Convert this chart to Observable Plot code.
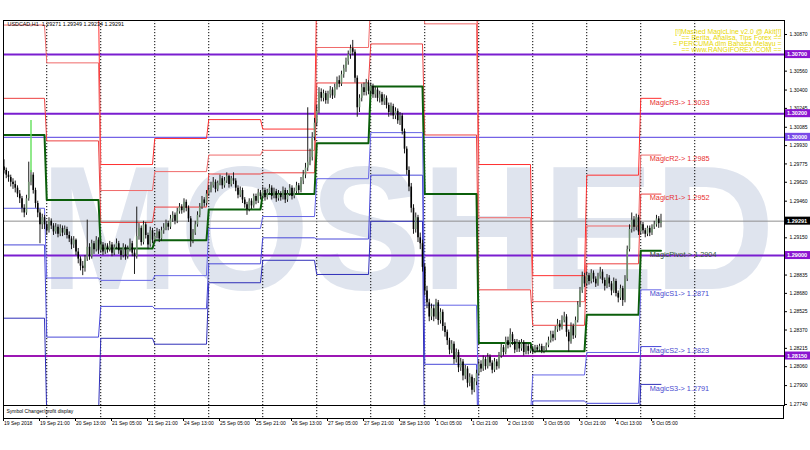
<!DOCTYPE html>
<html><head><meta charset="utf-8">
<script src="https://cdn.jsdelivr.net/npm/d3@7"></script>
<script src="https://cdn.jsdelivr.net/npm/@observablehq/plot@0.6"></script>
<style>body{margin:0;background:#fff}svg{display:block}</style>
</head><body><div id="chart"></div>
<script>
// ---- USDCAD H1 candles (bar index 0 = 19 Sep 05:00) ----
const open = [
1.2975,1.2972,1.2968,1.2966,1.2962,1.2960,1.2957,1.2952,1.2948,1.2940,
1.2936,1.2948,1.2962,1.2968,1.2955,1.2944,1.2936,1.2926,1.2932,1.2926,
1.2921,1.2929,1.2925,1.2920,1.2924,1.2918,1.2923,1.2919,1.2922,1.2917,
1.2914,1.2909,1.2913,1.2903,1.2897,1.2891,1.2889,1.2897,1.2907,1.2899,
1.2910,1.2905,1.2913,1.2904,1.2909,1.2903,1.2908,1.2905,1.2909,1.2902,
1.2907,1.2910,1.2904,1.2900,1.2907,1.2899,1.2905,1.2910,1.2902,1.2899,
1.2916,1.2923,1.2911,1.2926,1.2917,1.2909,1.2921,1.2913,1.2916,1.2920,
1.2914,1.2921,1.2923,1.2927,1.2924,1.2931,1.2934,1.2929,1.2937,1.2941,
1.2938,1.2945,1.2940,1.2931,1.2913,1.2919,1.2926,1.2934,1.2941,1.2947,
1.2944,1.2952,1.2955,1.2959,1.2962,1.2956,1.2961,1.2965,1.2959,1.2963,
1.2967,1.2960,1.2965,1.2963,1.2957,1.2951,1.2955,1.2947,1.2943,1.2939,
1.2946,1.2942,1.2950,1.2946,1.2953,1.2950,1.2955,1.2949,1.2953,1.2957,
1.2950,1.2954,1.2948,1.2952,1.2949,1.2955,1.2947,1.2952,1.2957,1.2950,
1.2954,1.2959,1.2955,1.2963,1.2968,1.2974,1.2979,1.2983,1.3000,1.3012,
1.3022,1.3038,1.3033,1.3037,1.3031,1.3036,1.3040,1.3035,1.3042,1.3048,
1.3045,1.3053,1.3058,1.3064,1.3070,1.3075,1.3072,1.3050,1.3025,1.3033,
1.3042,1.3038,1.3046,1.3039,1.3043,1.3036,1.3040,1.3033,1.3036,1.3030,
1.3033,1.3027,1.3021,1.3026,1.3018,1.3022,1.3014,1.3018,1.3005,1.2990,
1.2972,1.2958,1.2940,1.2922,1.2932,1.2915,1.2910,1.2890,1.2870,1.2860,
1.2848,1.2855,1.2848,1.2860,1.2845,1.2852,1.2840,1.2835,1.2828,1.2820,
1.2825,1.2812,1.2818,1.2805,1.2810,1.2798,1.2804,1.2792,1.2797,1.2786,
1.2793,1.2800,1.2808,1.2804,1.2812,1.2806,1.2814,1.2809,1.2803,1.2810,
1.2806,1.2815,1.2822,1.2818,1.2828,1.2824,1.2833,1.2827,1.2820,1.2826,
1.2821,1.2826,1.2818,1.2823,1.2819,1.2821,1.2819,1.2822,1.2820,1.2823,
1.2819,1.2821,1.2824,1.2828,1.2833,1.2830,1.2837,1.2842,1.2839,1.2845,
1.2848,1.2835,1.2827,1.2840,1.2832,1.2845,1.2858,1.2870,1.2882,1.2876,
1.2883,1.2878,1.2885,1.2880,1.2876,1.2882,1.2886,1.2879,1.2874,1.2881,
1.2876,1.2870,1.2878,1.2868,1.2864,1.2872,1.2862,1.2880,1.2905,1.2922,
1.2930,1.2924,1.2932,1.2920,1.2926,1.2921,1.2918,1.2923,1.2919,1.2924,
1.2926,1.2931,1.29271];
const high = [
1.2981,1.2974,1.2971,1.2968,1.2965,1.2963,1.2959,1.2955,1.2950,1.2943,
1.2951,1.2979,1.2972,1.2970,1.2957,1.2946,1.2939,1.2935,1.2934,1.2929,
1.2932,1.2931,1.2927,1.2927,1.2926,1.2926,1.2925,1.2925,1.2924,1.2920,
1.2916,1.2916,1.2914,1.2906,1.2899,1.2895,1.2900,1.2930,1.2910,1.2913,
1.2912,1.2916,1.2915,1.2912,1.2911,1.2910,1.2910,1.2912,1.2911,1.2909,
1.2914,1.2912,1.2906,1.2910,1.2909,1.2908,1.2914,1.2912,1.2905,1.2941,
1.2927,1.2925,1.2929,1.2928,1.2919,1.2924,1.2923,1.2919,1.2923,1.2922,
1.2924,1.2927,1.2930,1.2929,1.2934,1.2937,1.2936,1.2940,1.2944,1.2943,
1.2948,1.2947,1.2942,1.2933,1.2922,1.2929,1.2937,1.2944,1.2950,1.2949,
1.2955,1.2959,1.2962,1.2966,1.2964,1.2963,1.2968,1.2967,1.2966,1.2970,
1.2968,1.2967,1.2970,1.2965,1.2959,1.2958,1.2957,1.2949,1.2945,1.2948,
1.2948,1.2952,1.2952,1.2956,1.2955,1.2958,1.2957,1.2956,1.2960,1.2959,
1.2957,1.2956,1.2955,1.2954,1.2958,1.2957,1.2955,1.2960,1.2959,1.2957,
1.2962,1.2961,1.2966,1.2972,1.2978,1.3025,1.2990,1.3004,1.3016,1.3027,
1.3042,1.3041,1.3040,1.3039,1.3039,1.3043,1.3042,1.3045,1.3051,1.3052,
1.3056,1.3061,1.3067,1.3073,1.3078,1.3082,1.3074,1.3052,1.3036,1.3045,
1.3046,1.3049,1.3048,1.3046,1.3045,1.3043,1.3042,1.3039,1.3038,1.3036,
1.3035,1.3029,1.3029,1.3028,1.3025,1.3024,1.3021,1.3020,1.3007,1.2992,
1.2975,1.2961,1.2943,1.2936,1.2934,1.2919,1.2913,1.2893,1.2874,1.2863,
1.2859,1.2858,1.2863,1.2862,1.2855,1.2854,1.2843,1.2837,1.2830,1.2828,
1.2827,1.2821,1.2820,1.2813,1.2812,1.2807,1.2806,1.2800,1.2799,1.2796,
1.2803,1.2811,1.2811,1.2815,1.2814,1.2817,1.2816,1.2811,1.2813,1.2812,
1.2818,1.2825,1.2824,1.2831,1.2831,1.2838,1.2835,1.2829,1.2829,1.2828,
1.2829,1.2828,1.2826,1.2825,1.2824,1.2823,1.2824,1.2824,1.2825,1.2825,
1.2823,1.2826,1.2831,1.2836,1.2836,1.2840,1.2846,1.2845,1.2849,1.2852,
1.2850,1.2837,1.2843,1.2842,1.2848,1.2861,1.2873,1.2886,1.2885,1.2886,
1.2885,1.2888,1.2887,1.2882,1.2885,1.2890,1.2888,1.2881,1.2884,1.2883,
1.2878,1.2881,1.2880,1.2870,1.2875,1.2874,1.2883,1.2908,1.2926,1.2936,
1.2933,1.2935,1.2934,1.2929,1.2928,1.2923,1.2925,1.2925,1.2926,1.2929,
1.2934,1.2933,1.29349];
const low = [
1.2969,1.2965,1.2962,1.2958,1.2956,1.2953,1.2949,1.2944,1.2936,1.2932,
1.2934,1.2946,1.2959,1.2952,1.2940,1.2932,1.2910,1.2922,1.2922,1.2917,
1.2919,1.2922,1.2917,1.2918,1.2915,1.2916,1.2916,1.2917,1.2914,1.2911,
1.2905,1.2906,1.2900,1.2893,1.2887,1.2883,1.2886,1.2895,1.2896,1.2897,
1.2901,1.2903,1.2901,1.2902,1.2900,1.2901,1.2902,1.2903,1.2899,1.2900,
1.2905,1.2901,1.2896,1.2898,1.2896,1.2897,1.2903,1.2899,1.2884,1.2897,
1.2913,1.2908,1.2909,1.2914,1.2905,1.2907,1.2910,1.2911,1.2914,1.2911,
1.2912,1.2918,1.2921,1.2921,1.2922,1.2928,1.2926,1.2927,1.2935,1.2935,
1.2936,1.2937,1.2928,1.2907,1.2910,1.2917,1.2924,1.2932,1.2939,1.2941,
1.2942,1.2950,1.2953,1.2957,1.2953,1.2954,1.2959,1.2956,1.2957,1.2961,
1.2957,1.2958,1.2960,1.2954,1.2948,1.2949,1.2944,1.2940,1.2934,1.2937,
1.2939,1.2940,1.2943,1.2944,1.2947,1.2948,1.2946,1.2947,1.2951,1.2947,
1.2948,1.2945,1.2946,1.2946,1.2947,1.2944,1.2945,1.2950,1.2947,1.2948,
1.2952,1.2952,1.2953,1.2960,1.2965,1.2971,1.2976,1.2980,1.2997,1.3009,
1.3020,1.3030,1.3030,1.3028,1.3028,1.3033,1.3032,1.3033,1.3040,1.3042,
1.3043,1.3050,1.3055,1.3061,1.3066,1.3069,1.3046,1.3017,1.3021,1.3030,
1.3035,1.3035,1.3036,1.3036,1.3033,1.3033,1.3030,1.3029,1.3027,1.3027,
1.3024,1.3017,1.3018,1.3015,1.3015,1.3011,1.3010,1.3002,1.2986,1.2968,
1.2954,1.2936,1.2918,1.2919,1.2911,1.2905,1.2886,1.2866,1.2855,1.2844,
1.2845,1.2844,1.2846,1.2841,1.2842,1.2836,1.2831,1.2824,1.2816,1.2817,
1.2808,1.2809,1.2801,1.2802,1.2794,1.2795,1.2788,1.2789,1.2782,1.2784,
1.2790,1.2798,1.2801,1.2802,1.2803,1.2804,1.2806,1.2800,1.2801,1.2803,
1.2804,1.2813,1.2815,1.2816,1.2821,1.2822,1.2824,1.2817,1.2818,1.2818,
1.2819,1.2815,1.2816,1.2816,1.2817,1.2817,1.2817,1.2818,1.2818,1.2817,
1.2817,1.2819,1.2822,1.2826,1.2827,1.2828,1.2835,1.2836,1.2837,1.2843,
1.2831,1.2818,1.2825,1.2829,1.2830,1.2843,1.2856,1.2868,1.2873,1.2874,
1.2875,1.2876,1.2877,1.2873,1.2874,1.2880,1.2876,1.2870,1.2872,1.2873,
1.2866,1.2868,1.2865,1.2860,1.2862,1.2857,1.2860,1.2878,1.2903,1.2919,
1.2920,1.2921,1.2917,1.2917,1.2918,1.2915,1.2916,1.2916,1.2917,1.2922,
1.2924,1.2923,1.29234];
const close = [
1.2972,1.2968,1.2966,1.2962,1.2960,1.2957,1.2952,1.2948,1.2940,1.2936,
1.2948,1.2962,1.2968,1.2955,1.2944,1.2936,1.2926,1.2932,1.2926,1.2921,
1.2929,1.2925,1.2920,1.2924,1.2918,1.2923,1.2919,1.2922,1.2917,1.2914,
1.2909,1.2913,1.2903,1.2897,1.2891,1.2889,1.2897,1.2907,1.2899,1.2910,
1.2905,1.2913,1.2904,1.2909,1.2903,1.2908,1.2905,1.2909,1.2902,1.2907,
1.2910,1.2904,1.2900,1.2907,1.2899,1.2905,1.2910,1.2902,1.2899,1.2916,
1.2923,1.2911,1.2926,1.2917,1.2909,1.2921,1.2913,1.2916,1.2920,1.2914,
1.2921,1.2923,1.2927,1.2924,1.2931,1.2934,1.2929,1.2937,1.2941,1.2938,
1.2945,1.2940,1.2931,1.2913,1.2919,1.2926,1.2934,1.2941,1.2947,1.2944,
1.2952,1.2955,1.2959,1.2962,1.2956,1.2961,1.2965,1.2959,1.2963,1.2967,
1.2960,1.2965,1.2963,1.2957,1.2951,1.2955,1.2947,1.2943,1.2939,1.2946,
1.2942,1.2950,1.2946,1.2953,1.2950,1.2955,1.2949,1.2953,1.2957,1.2950,
1.2954,1.2948,1.2952,1.2949,1.2955,1.2947,1.2952,1.2957,1.2950,1.2954,
1.2959,1.2955,1.2963,1.2968,1.2974,1.2979,1.2983,1.3000,1.3012,1.3022,
1.3038,1.3033,1.3037,1.3031,1.3036,1.3040,1.3035,1.3042,1.3048,1.3045,
1.3053,1.3058,1.3064,1.3070,1.3075,1.3072,1.3050,1.3025,1.3033,1.3042,
1.3038,1.3046,1.3039,1.3043,1.3036,1.3040,1.3033,1.3036,1.3030,1.3033,
1.3027,1.3021,1.3026,1.3018,1.3022,1.3014,1.3018,1.3005,1.2990,1.2972,
1.2958,1.2940,1.2922,1.2932,1.2915,1.2910,1.2890,1.2870,1.2860,1.2848,
1.2855,1.2848,1.2860,1.2845,1.2852,1.2840,1.2835,1.2828,1.2820,1.2825,
1.2812,1.2818,1.2805,1.2810,1.2798,1.2804,1.2792,1.2797,1.2786,1.2793,
1.2800,1.2808,1.2804,1.2812,1.2806,1.2814,1.2809,1.2803,1.2810,1.2806,
1.2815,1.2822,1.2818,1.2828,1.2824,1.2833,1.2827,1.2820,1.2826,1.2821,
1.2826,1.2818,1.2823,1.2819,1.2821,1.2819,1.2822,1.2820,1.2823,1.2819,
1.2821,1.2824,1.2828,1.2833,1.2830,1.2837,1.2842,1.2839,1.2845,1.2848,
1.2835,1.2827,1.2840,1.2832,1.2845,1.2858,1.2870,1.2882,1.2876,1.2883,
1.2878,1.2885,1.2880,1.2876,1.2882,1.2886,1.2879,1.2874,1.2881,1.2876,
1.2870,1.2878,1.2868,1.2864,1.2872,1.2862,1.2880,1.2905,1.2922,1.2930,
1.2924,1.2932,1.2920,1.2926,1.2921,1.2918,1.2923,1.2919,1.2924,1.2926,
1.2931,1.2927,1.29291];

// green spike marker
const spikeBar = [12];
const spikeTop = [1.30143];
const spikeBottom = [1.29700];

// ---- daily pivot levels (13 sessions) ----
const dayStart = [0,19,43,67,91,115,139,163,187,211,235,259,283];
const dayEnd   = [18,42,66,90,114,138,162,186,210,234,258,282,292];
const r3    = [1.3126,1.3113,1.2977,1.2999,1.3015,1.3007,1.3127,1.3154,1.3146,1.2977,1.2883,1.2968,1.3033];
const r2    = [1.3095,1.3063,1.2955,1.2971,1.2985,1.2989,1.3076,1.3118,1.3096,1.2932,1.2861,1.2925,1.2985];
const r1    = [1.3033,1.2997,1.2928,1.2941,1.2969,1.2970,1.3046,1.3079,1.3002,1.2871,1.2841,1.2893,1.2952];
const pivot = [1.3002,1.2947,1.2906,1.2913,1.2939,1.2952,1.2995,1.3043,1.2952,1.2826,1.2819,1.2850,1.2904];
const s1    = [1.2940,1.2881,1.2879,1.2883,1.2923,1.2933,1.2965,1.3004,1.2858,1.2765,1.2799,1.2818,1.2871];
const s2    = [1.2909,1.2831,1.2857,1.2855,1.2893,1.2915,1.2914,1.2968,1.2808,1.2720,1.2777,1.2775,1.2823];
const s3    = [1.2847,1.2765,1.2830,1.2825,1.2877,1.2896,1.2884,1.2929,1.2714,1.2659,1.2757,1.2743,1.2791];

const levelNames  = ["R3","R2","R1","Pivot","S1","S2","S3"];
const levelLabels = ["MagicR3-> 1.3033","MagicR2-> 1.2985","MagicR1-> 1.2952","MagicPivot-> 1.2904","MagicS1-> 1.2871","MagicS2-> 1.2823","MagicS3-> 1.2791"];
const labelBar = 287;

// horizontal price lines
const hLineValues = [1.30700,1.30200,1.30000,1.29000,1.28150];
const hLineLabels = ["1.30700","1.30200","1.30000","1.29000","1.28150"];
const currentPrice = 1.29291;

// axes (labels hidden behind the price boxes are left out)
const yTicks = [1.30870,1.30560,1.30400,1.30245,1.30085,1.29930,1.29775,1.29620,1.29460,1.29305,1.29150,1.28835,1.28680,1.28525,1.28370,1.28215,1.28060,1.27900,1.27740];
const dateBars = [0,16,32,48,64,80,96,112,128,144,160,176,192,208,224,240,256,272,288];
const dateLabels = ["19 Sep 2018","19 Sep 21:00","20 Sep 13:00","21 Sep 05:00","21 Sep 21:00","24 Sep 13:00","25 Sep 05:00","25 Sep 21:00","26 Sep 13:00","27 Sep 05:00","27 Sep 21:00","28 Sep 13:00","1 Oct 05:00","1 Oct 21:00","2 Oct 13:00","3 Oct 05:00","3 Oct 21:00","4 Oct 13:00","5 Oct 05:00"];
const separatorBars = [19,43,67,91,115,139,163,187,211,235,259,283,307];

const headerText = "USDCAD,H1  1.29271 1.29349 1.29234 1.29291";
const promoText = ["[!]Mashed MagicLine v2.0 @ Akit[!]","== Berita, Analisa, Tips Forex ==","= PERCUMA dlm Bahasa Melayu =","== www.RANGIFOREX.COM =="];
const subWindowText = "Symbol Changer/profit display";
const watermark = "MOSHED";

// ---- build tables ----
const bars = close.map((c, i) => ({i, o: open[i], h: high[i], l: low[i], c}));
const levelArrays = [r3, r2, r1, pivot, s1, s2, s3];
const levelColors = ["#ff3030", "#f06a6a", "#ec4040", "#0b5e0b", "#6464e6", "#4848d8", "#2f2fb8"];
const labelColors = ["#e83030", "#e83030", "#e83030", "#2f5a2f", "#4a4ad0", "#4a4ad0", "#4a4ad0"];
const levelPts = [];
levelArrays.forEach((arr, s) => arr.forEach((v, k) => {
  levelPts.push({s, i: dayStart[k], v}, {s, i: dayEnd[k], v});
}));
const lastLabels = levelArrays.map((arr, s) => ({s, v: arr[arr.length - 1], text: levelLabels[s]}));
const hLines = hLineValues.map((v, k) => ({v, label: hLineLabels[k],
  color: v === 1.30000 ? "#7462e6" : (v === 1.28150 ? "#9c16b4" : "#7a1ed0"),
  w: v === 1.30000 ? 1.4 : 2}));

const font = "'Liberation Sans', Arial, sans-serif";

const lineMarks = levelArrays.map((arr, s) =>
  Plot.line(levelPts.filter(d => d.s === s), {x: "i", y: "v", stroke: levelColors[s], strokeWidth: s === 3 ? 2 : 1, clip: true}));

const chart = Plot.plot({
  width: 810, height: 450,
  marginTop: 20, marginRight: 26, marginBottom: 45, marginLeft: 3,
  style: {fontFamily: font, background: "#fff"},
  x: {type: "linear", domain: [-0.2222, 346.889], axis: null},
  y: {type: "linear", domain: [1.277315, 1.309884], axis: null},
  color: {type: "identity"},
  marks: [
    Plot.ruleX(separatorBars, {x: d => d, stroke: "#000", strokeWidth: 1, strokeDasharray: "1.2,1.8", insetBottom: -13}),
    Plot.ruleY(hLines, {y: "v", stroke: "color", strokeWidth: "w"}),
    Plot.ruleY([currentPrice], {stroke: "#8e8e8e", strokeWidth: 1}),
    ...lineMarks,
    Plot.ruleX(bars, {x: "i", y1: "l", y2: "h", stroke: "#1c1c1c", strokeWidth: 1}),
    Plot.ruleX(bars, {x: "i", y1: "o", y2: "c", stroke: d => d.c >= d.o ? "#6f8f6f" : "#000", strokeWidth: 1.6}),
    Plot.ruleX(spikeBar, {x: d => d, y1: (d, k) => spikeTop[k], y2: (d, k) => spikeBottom[k], stroke: "#62e05a", strokeWidth: 1.4}),
    Plot.text(lastLabels, {x: () => labelBar, y: "v", text: "text", fill: d => labelColors[d.s], textAnchor: "start", lineAnchor: "top", dy: 1, fontSize: 7.3}),
    Plot.text([headerText], {frameAnchor: "top-left", dx: 4, dy: 2, lineAnchor: "top", textAnchor: "start", fontSize: 5.4, fill: "#000"}),
    Plot.text([promoText.join("\n")], {frameAnchor: "top-right", dx: -3, dy: 9, lineAnchor: "top", textAnchor: "end", fontSize: 6.9, lineHeight: 0.86, fill: "#e8d800"}),
    Plot.frame({stroke: "#000", strokeWidth: 1}),
    Plot.text([subWindowText], {frameAnchor: "bottom-left", dx: 3, dy: 7, textAnchor: "start", fontSize: 5, fill: "#000"}),
    Plot.text(dateLabels, {x: (d, k) => dateBars[k], frameAnchor: "bottom", dy: 19, textAnchor: "start", fontSize: 5, fill: "#000"}),
    Plot.ruleY(yTicks, {y: d => d, stroke: "#000", insetLeft: 781, insetRight: -3}),
    Plot.text(yTicks, {y: d => d, text: d => d.toFixed(5), frameAnchor: "right", dx: 5, textAnchor: "start", fontSize: 5, fill: "#000"})
  ]
});

// ---- decorations positioned via the chart's scales ----
const svg = d3.select(chart);
const sx = chart.scale("x"), sy = chart.scale("y");
const left = 3, right = 784, mainBottom = 405, subBottom = 418;

// watermark behind everything
svg.insert("text", ":first-child")
  .attr("x", 40).attr("y", 289)
  .attr("text-anchor", "start")
  .attr("font-family", font).attr("font-weight", "bold").attr("font-size", 176)
  .attr("fill", "#dfe4ee")
  .attr("textLength", 735).attr("lengthAdjust", "spacingAndGlyphs")
  .text(watermark);

// sub-window frame
svg.append("rect").attr("x", left + 0.5).attr("y", mainBottom + 0.5)
  .attr("width", right - left - 1).attr("height", subBottom - mainBottom)
  .attr("fill", "none").attr("stroke", "#000");

// date tick marks
const g2 = svg.append("g");
dateBars.forEach(b => {
  const xx = Math.round(sx.apply(b)) + 0.5;
  g2.append("line").attr("x1", xx).attr("x2", xx).attr("y1", subBottom).attr("y2", subBottom + 3).attr("stroke", "#000");
});

// right-axis price boxes
const boxG = svg.append("g").attr("font-family", font).attr("text-anchor", "start");
function priceBox(v, label, bg) {
  const yy = sy.apply(v);
  boxG.append("rect").attr("x", right + 1).attr("y", yy - 4).attr("width", 25).attr("height", 8).attr("fill", bg);
  boxG.append("text").attr("x", right + 3).attr("y", yy + 2).attr("fill", "#fff")
    .attr("text-anchor", "start")
    .attr("font-size", 5.6).attr("font-weight", "bold").text(label);
}
hLines.forEach(d => priceBox(d.v, d.label, d.v === 1.30000 ? "#7a4ae8" : "#8a14d0"));
priceBox(currentPrice, currentPrice.toFixed(5), "#000");

document.getElementById("chart").appendChild(chart);
</script></body></html>
